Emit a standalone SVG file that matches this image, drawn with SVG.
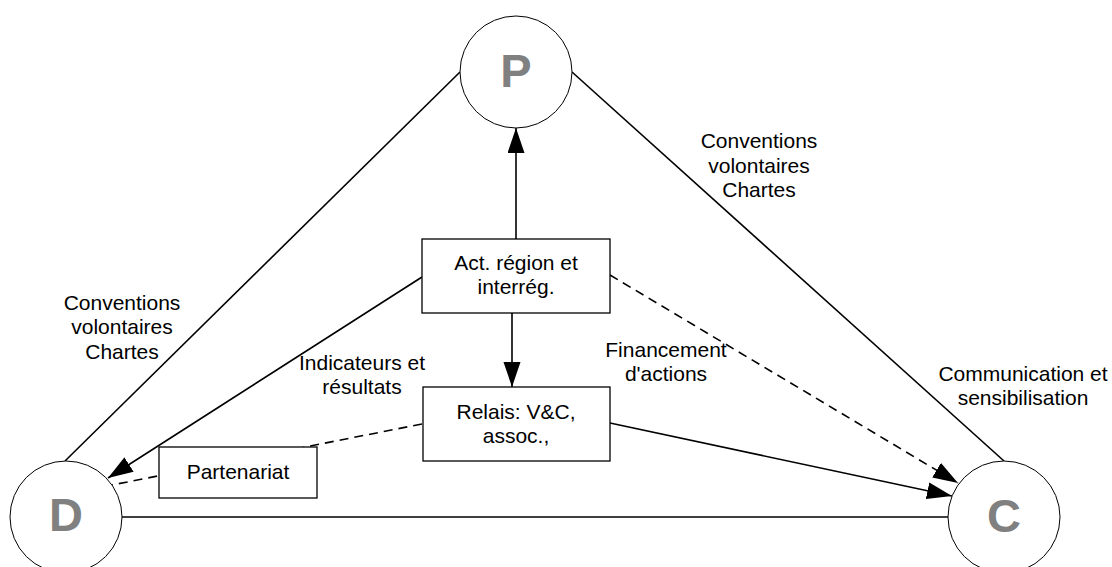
<svg xmlns="http://www.w3.org/2000/svg" width="1112" height="567" viewBox="0 0 1112 567">
<style>
.ln{stroke:#000;stroke-width:1.6;fill:none}
.dash{stroke-dasharray:9,6}
.circ{fill:#fff;stroke:#000;stroke-width:1}
.box{fill:#fff;stroke:#000;stroke-width:1.3}
.t{font-family:"Liberation Sans",Arial,sans-serif;font-size:21px;fill:#000;text-anchor:middle}
.big{font-family:"Liberation Sans",Arial,sans-serif;font-size:47px;font-weight:bold;fill:#808080;text-anchor:middle}
</style>
<defs>
<marker id="ah" markerUnits="userSpaceOnUse" markerWidth="26" markerHeight="18" refX="25" refY="8.5" orient="auto">
<path d="M0,0 L25,8.5 L0,17 z" fill="#000"/>
</marker>
</defs>
<rect width="1112" height="567" fill="#fff"/>
<g id="connectors">
<line class="ln" x1="65" y1="461" x2="460" y2="72"/>
<line class="ln" x1="572" y1="72" x2="1004" y2="461"/>
<line class="ln" x1="122" y1="517" x2="948" y2="517"/>
<line class="ln" x1="516" y1="239" x2="516" y2="128" marker-end="url(#ah)"/>
<line class="ln" x1="512" y1="313" x2="512" y2="387" marker-end="url(#ah)"/>
<line class="ln" x1="422" y1="277" x2="108" y2="478" marker-end="url(#ah)"/>
<line class="ln dash" x1="610" y1="275" x2="958" y2="483" marker-end="url(#ah)"/>
<line class="ln" x1="610" y1="423" x2="952" y2="496" marker-end="url(#ah)"/>
<line class="ln dash" x1="422" y1="424" x2="112" y2="485"/>
</g>
<g id="node-P">
<circle class="circ" cx="516" cy="72" r="56"/>
<text class="big" x="516" y="87">P</text>
</g>
<g id="node-D">
<circle class="circ" cx="66" cy="517" r="56"/>
<text class="big" x="66" y="531">D</text>
</g>
<g id="node-C">
<circle class="circ" cx="1004" cy="517" r="56"/>
<text class="big" x="1004" y="532">C</text>
</g>
<g id="node-act">
<rect class="box" x="422" y="239" width="188" height="74"/>
<text class="t" x="516" y="270">Act. région et</text>
<text class="t" x="516" y="294">interrég.</text>
</g>
<g id="node-relais">
<rect class="box" x="423" y="387" width="187" height="74"/>
<text class="t" x="516" y="419">Relais: V&amp;C,</text>
<text class="t" x="516" y="443">assoc.,</text>
</g>
<g id="node-partenariat">
<rect class="box" x="159" y="447" width="158" height="51"/>
<text class="t" x="238" y="479">Partenariat</text>
</g>
<g id="labels">
<text class="t" x="122" y="310">Conventions</text>
<text class="t" x="122" y="334">volontaires</text>
<text class="t" x="122" y="359">Chartes</text>
<text class="t" x="759" y="148">Conventions</text>
<text class="t" x="759" y="173">volontaires</text>
<text class="t" x="759" y="197">Chartes</text>
<text class="t" x="1023" y="381">Communication et</text>
<text class="t" x="1023" y="405">sensibilisation</text>
<text class="t" x="362" y="370">Indicateurs et</text>
<text class="t" x="362" y="394">résultats</text>
<text class="t" x="666" y="357">Financement</text>
<text class="t" x="666" y="381">d'actions</text>
</g>
</svg>
